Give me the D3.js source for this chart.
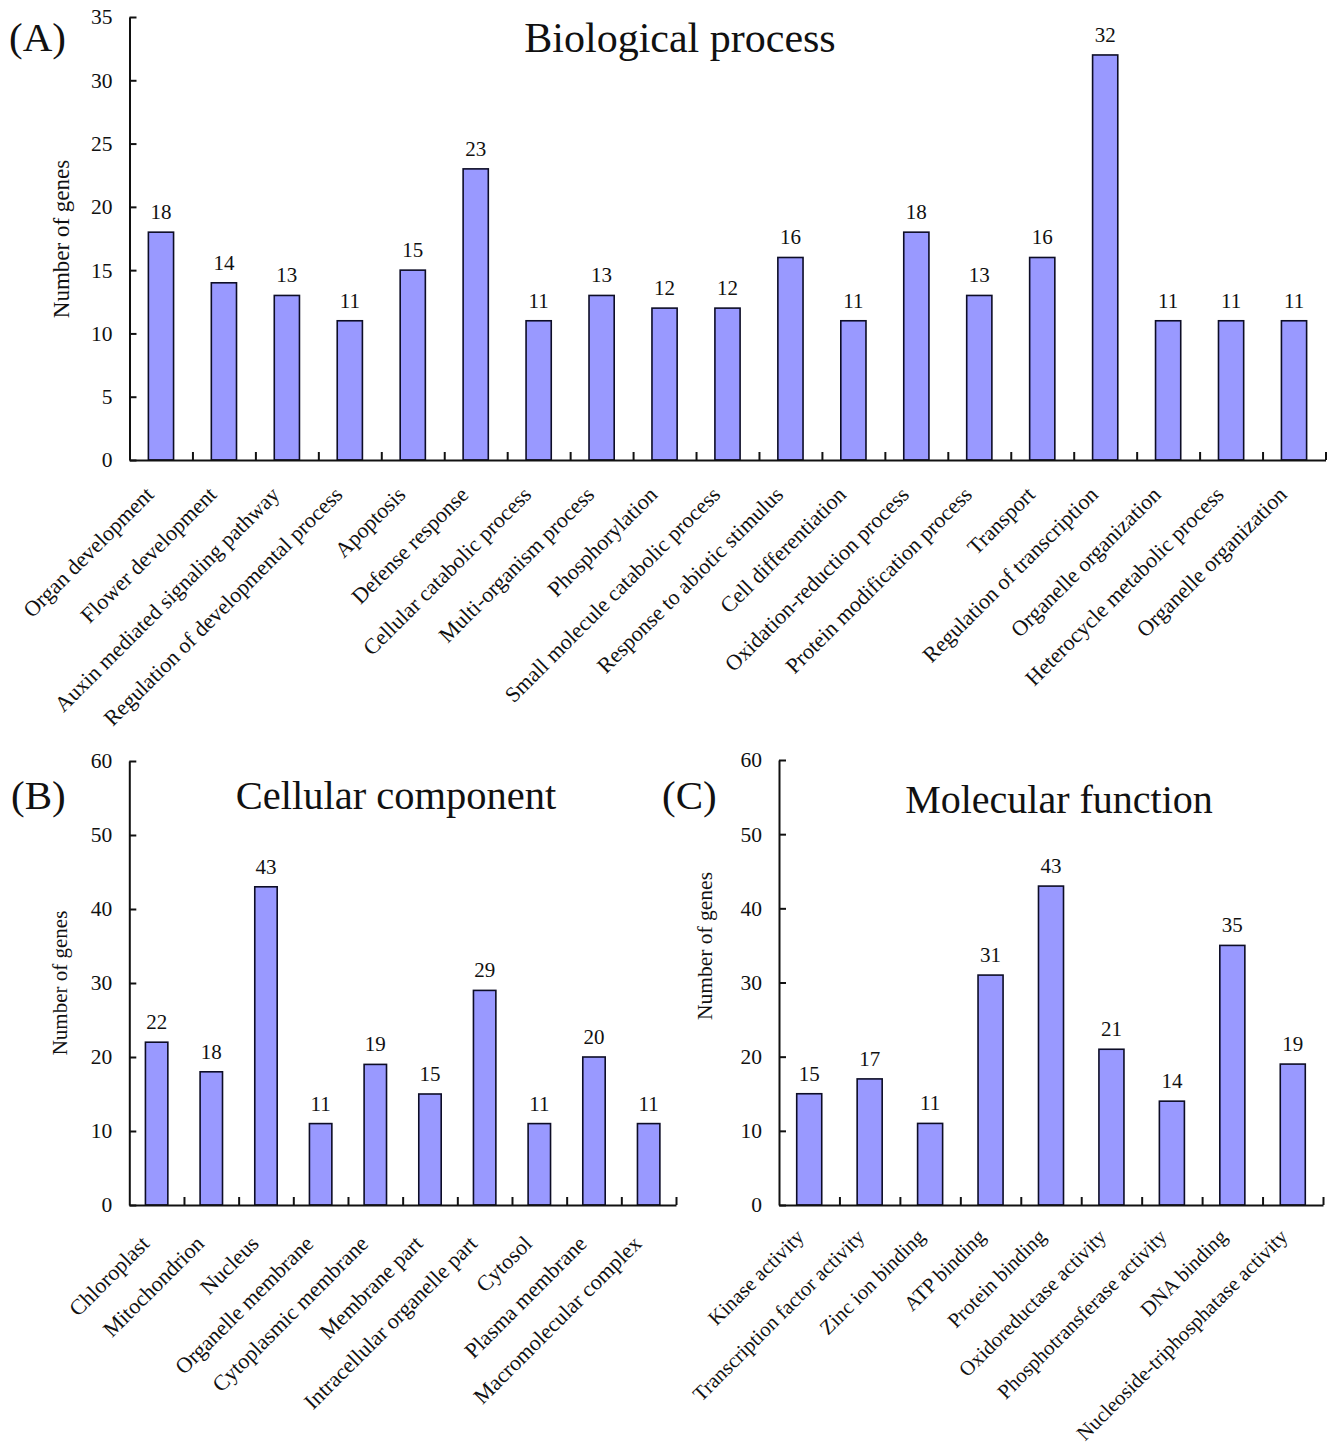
<!DOCTYPE html>
<html>
<head>
<meta charset="utf-8">
<script src="https://cdn.jsdelivr.net/npm/d3@7/dist/d3.min.js"></script>
<style>
  html, body { margin: 0; padding: 0; background: #fff; }
  svg { display: block; font-family: "Liberation Serif", "Times New Roman", serif; }
</style>
</head>
<body>
<svg id="chart" width="1327" height="1452"></svg>
<script>
// GO term counts for the three ontologies
const bpCategories = [
  "Organ development", "Flower development", "Auxin mediated signaling pathway",
  "Regulation of developmental process", "Apoptosis", "Defense response",
  "Cellular catabolic process", "Multi-organism process", "Phosphorylation",
  "Small molecule catabolic process", "Response to abiotic stimulus", "Cell differentiation",
  "Oxidation-reduction process", "Protein modification process", "Transport",
  "Regulation of transcription", "Organelle organization", "Heterocycle metabolic process",
  "Organelle organization"
];
const bpValues = [18, 14, 13, 11, 15, 23, 11, 13, 12, 12, 16, 11, 18, 13, 16, 32, 11, 11, 11];
const bpTicks = [0, 5, 10, 15, 20, 25, 30, 35];

const ccCategories = [
  "Chloroplast", "Mitochondrion", "Nucleus", "Organelle membrane", "Cytoplasmic membrane",
  "Membrane part", "Intracellular organelle part", "Cytosol", "Plasma membrane",
  "Macromolecular complex"
];
const ccValues = [22, 18, 43, 11, 19, 15, 29, 11, 20, 11];
const ccTicks = [0, 10, 20, 30, 40, 50, 60];

const mfCategories = [
  "Kinase activity", "Transcription factor activity", "Zinc ion binding", "ATP binding",
  "Protein binding", "Oxidoreductase activity", "Phosphotransferase activity", "DNA binding",
  "Nucleoside-triphosphatase activity"
];
const mfValues = [15, 17, 11, 31, 43, 21, 14, 35, 19];
const mfTicks = [0, 10, 20, 30, 40, 50, 60];

const yTitle = "Number of genes";

const svg = d3.select("#chart");

function drawPanel(o) {
  const n = o.categories.length;
  const idx = d3.range(n);
  const g = svg.append("g");

  const x = d3.scaleBand().domain(idx).range([o.x0, o.x1])
    .paddingInner(o.pad).paddingOuter(o.pad / 2);
  const cell = d3.scaleLinear().domain([0, n]).range([o.x0, o.x1]);
  const y = d3.scaleLinear().domain([0, o.yMax]).range([o.y0, o.yTop]);

  // bars
  g.selectAll("rect.bar").data(idx).join("rect")
    .attr("class", "bar")
    .attr("x", i => x(i))
    .attr("y", i => y(o.values[i]))
    .attr("width", x.bandwidth())
    .attr("height", i => y(0) - y(o.values[i]))
    .attr("fill", "#9999ff")
    .attr("stroke", "#0d0d26")
    .attr("stroke-width", 1.6);

  // value labels
  g.selectAll("text.val").data(idx).join("text")
    .attr("class", "val")
    .attr("x", i => x(i) + x.bandwidth() / 2)
    .attr("y", i => y(o.values[i]) - 13)
    .attr("text-anchor", "middle")
    .attr("font-size", o.valSize)
    .attr("fill", "#111")
    .text(i => o.values[i]);

  // y axis, ticks pointing inward
  const ya = g.append("g")
    .attr("transform", `translate(${o.x0},0)`)
    .call(d3.axisLeft(y).tickValues(o.ticks).tickSize(-7).tickPadding(17).tickSizeOuter(0));
  ya.select(".domain").attr("stroke", "#111").attr("stroke-width", 2);
  ya.selectAll(".tick line").attr("stroke", "#111").attr("stroke-width", 2);
  ya.selectAll(".tick text").attr("font-size", o.tickSize).attr("fill", "#111")
    .attr("font-family", "Liberation Serif, serif");

  // x axis with category separators pointing inward
  const xa = g.append("g")
    .attr("transform", `translate(0,${o.y0})`)
    .call(d3.axisBottom(cell).tickValues(d3.range(1, n + 1)).tickSize(-8)
      .tickSizeOuter(0).tickFormat(""));
  xa.select(".domain").attr("stroke", "#111").attr("stroke-width", 2);
  xa.selectAll(".tick line").attr("stroke", "#111").attr("stroke-width", 2);

  // rotated category labels
  g.selectAll("text.cat").data(idx).join("text")
    .attr("class", "cat")
    .attr("transform", i => `translate(${x(i) + x.bandwidth() / 2 + o.labDx},${o.y0 + o.labDy}) rotate(-45)`)
    .attr("text-anchor", "end")
    .attr("font-size", o.catSize)
    .attr("fill", "#111")
    .text(i => o.categories[i]);

  // y title
  g.append("text")
    .attr("transform", `translate(${o.yTitleX},${o.yTitleY}) rotate(-90)`)
    .attr("text-anchor", "middle")
    .attr("font-size", o.yTitleSize)
    .attr("fill", "#111")
    .text(yTitle);

  // panel title and letter
  g.append("text")
    .attr("x", o.titleX).attr("y", o.titleY)
    .attr("text-anchor", "middle")
    .attr("font-size", o.titleSize)
    .attr("fill", "#111")
    .text(o.title);
  g.append("text")
    .attr("x", o.letterX).attr("y", o.letterY)
    .attr("font-size", 41)
    .attr("fill", "#111")
    .text(o.letter);
}

drawPanel({
  categories: bpCategories, values: bpValues, ticks: bpTicks, yMax: 35,
  x0: 129.5, x1: 1325.5, y0: 460, yTop: 17, pad: 0.6,
  valSize: 21, tickSize: 21.5, catSize: 22, labDx: -6, labDy: 36,
  yTitleX: 69, yTitleY: 239, yTitleSize: 23,
  title: "Biological process", titleX: 680, titleY: 52, titleSize: 42,
  letter: "(A)", letterX: 9, letterY: 51
});

drawPanel({
  categories: ccCategories, values: ccValues, ticks: ccTicks, yMax: 60,
  x0: 129.3, x1: 676, y0: 1205, yTop: 761, pad: 0.59,
  valSize: 21, tickSize: 21.5, catSize: 22, labDx: -6, labDy: 40,
  yTitleX: 67, yTitleY: 983, yTitleSize: 21,
  title: "Cellular component", titleX: 396, titleY: 809, titleSize: 40.5,
  letter: "(B)", letterX: 11, letterY: 809
});

drawPanel({
  categories: mfCategories, values: mfValues, ticks: mfTicks, yMax: 60,
  x0: 779, x1: 1323, y0: 1205, yTop: 760, pad: 0.586,
  valSize: 21, tickSize: 21.5, catSize: 20.8, labDx: -4, labDy: 33,
  yTitleX: 712, yTitleY: 946, yTitleSize: 21.5,
  title: "Molecular function", titleX: 1059, titleY: 813, titleSize: 40,
  letter: "(C)", letterX: 662, letterY: 809
});
</script>
</body>
</html>
